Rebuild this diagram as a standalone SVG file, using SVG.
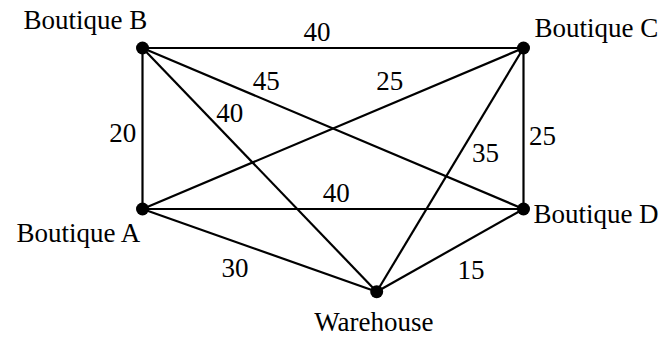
<svg xmlns="http://www.w3.org/2000/svg" width="667" height="338" viewBox="0 0 667 338">
<style>
.e{stroke:#000;stroke-width:2.2;fill:none}
.n{fill:#000}
text{font-family:"Liberation Serif","Times New Roman",serif;font-size:27px;fill:#000;text-anchor:middle}
</style>
<rect width="667" height="338" fill="#fff"/>
<g id="connectors">
<line class="e" x1="142.5" y1="48" x2="523.5" y2="48"/>
<line class="e" x1="142.5" y1="48" x2="142.5" y2="209"/>
<line class="e" x1="142.5" y1="48" x2="523.5" y2="209"/>
<line class="e" x1="142.5" y1="48" x2="376.7" y2="291.7"/>
<line class="e" x1="523.5" y1="48" x2="142.5" y2="209"/>
<line class="e" x1="523.5" y1="48" x2="523.5" y2="209"/>
<line class="e" x1="523.5" y1="48" x2="376.7" y2="291.7"/>
<line class="e" x1="142.5" y1="209" x2="523.5" y2="209"/>
<line class="e" x1="142.5" y1="209" x2="376.7" y2="291.7"/>
<line class="e" x1="523.5" y1="209" x2="376.7" y2="291.7"/>
<text x="317" y="40.7">40</text>
<text x="266.3" y="90">45</text>
<text x="389.7" y="90">25</text>
<text x="229.7" y="121.7">40</text>
<text x="336.3" y="201.7">40</text>
<text x="485.5" y="161.7">35</text>
<text x="122.8" y="141.7">20</text>
<text x="542.5" y="145">25</text>
<text x="235" y="277.3">30</text>
<text x="471" y="279.3">15</text>
</g>
<g id="boutique-b"><circle class="n" cx="142.5" cy="48" r="6.5"/><text x="85.5" y="29">Boutique B</text></g>
<g id="boutique-c"><circle class="n" cx="523.5" cy="48" r="6.5"/><text x="596.3" y="37">Boutique C</text></g>
<g id="boutique-a"><circle class="n" cx="142.5" cy="209" r="6.5"/><text x="78.3" y="241.5">Boutique A</text></g>
<g id="boutique-d"><circle class="n" cx="523.5" cy="209" r="6.5"/><text x="596" y="223">Boutique D</text></g>
<g id="warehouse"><circle class="n" cx="376.7" cy="291.7" r="6.5"/><text x="373.8" y="330.5">Warehouse</text></g>
</svg>
